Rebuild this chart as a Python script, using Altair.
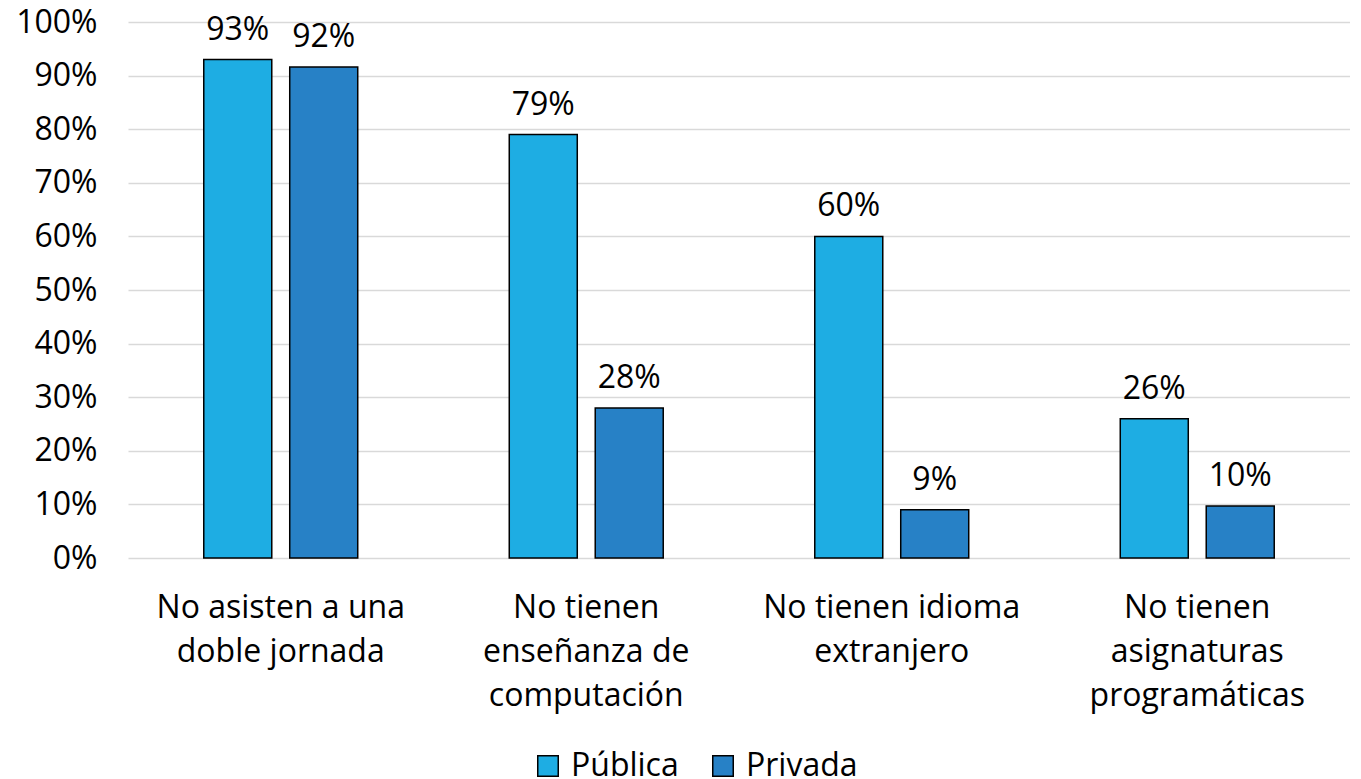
import altair as alt
import pandas as pd

categories = ["No asisten a una|doble jornada",
              "No tienen|enseñanza de|computación",
              "No tienen idioma|extranjero",
              "No tienen|asignaturas|programáticas"]
series = ["Pública", "Privada"]
publica = [0.93, 0.79, 0.60, 0.26]
privada = [0.916, 0.28, 0.09, 0.097]
labels_pub = ["93%", "79%", "60%", "26%"]
labels_priv = ["92%", "28%", "9%", "10%"]
colors = ["#1EADE3", "#2781C6"]

rows = []
for i, c in enumerate(categories):
    rows.append({"cat": c, "serie": "Pública", "val": publica[i], "lab": labels_pub[i]})
    rows.append({"cat": c, "serie": "Privada", "val": privada[i], "lab": labels_priv[i]})
df = pd.DataFrame(rows)

FONT = "Open Sans"
FS = 32

x = alt.X("cat:N", sort=categories, title=None,
          scale=alt.Scale(paddingInner=0.496, paddingOuter=0.248),
          axis=alt.Axis(labelExpr="split(datum.label, '|')", labelAngle=0,
                        labelFontSize=FS, labelFont=FONT, labelColor="#000000",
                        labelPadding=34, labelLineHeight=44, ticks=False, labelLimit=0,
                        domain=False, grid=False, labelBaseline="top"))
xo = alt.XOffset("serie:N", sort=series, scale=alt.Scale(paddingInner=0.209, paddingOuter=0))

base = alt.Chart(df)

bars = base.mark_bar(stroke="#000000", strokeWidth=1.5).encode(
    x=x, xOffset=xo,
    y=alt.Y("val:Q", title=None,
            scale=alt.Scale(domain=[0, 1], nice=False),
            axis=alt.Axis(format=".0%", values=[i / 10 for i in range(11)],
                          labelFontSize=FS, labelFont=FONT, labelColor="#000000",
                          ticks=False, domain=False, labelPadding=31,
                          gridColor="#d9d9d9", gridWidth=1.5)),
    color=alt.Color("serie:N", sort=series,
                    scale=alt.Scale(domain=series, range=colors),
                    legend=alt.Legend(title=None, orient="none", direction="horizontal",
                                      legendX=404, legendY=728,
                                      symbolType="square", symbolSize=420,
                                      symbolStrokeColor="#000000", symbolStrokeWidth=1.5,
                                      labelFontSize=FS, labelFont=FONT, labelColor="#000000",
                                      labelOffset=7, columnPadding=28)),
)

text = base.mark_text(baseline="bottom", dy=-13, fontSize=FS, font=FONT, color="#000000").encode(
    x=x, xOffset=xo, y="val:Q", text="lab:N"
)

chart = (bars + text).properties(
    width=1222, height=536,
    background="#ffffff",
    autosize=alt.AutoSizeParams(type="none"),
    padding={"left": 120, "top": 14, "right": 0, "bottom": 221},
).configure_view(strokeWidth=0, stroke="transparent")

chart.save("out.html", embed_options={"renderer": "svg", "actions": False})
